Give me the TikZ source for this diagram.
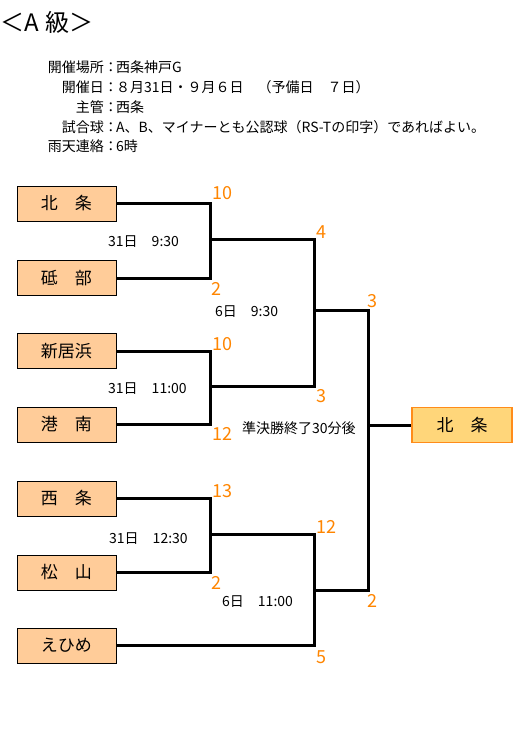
\documentclass[tikz,border=0pt]{standalone}
\usepackage{fontspec}
\setmainfont{Noto Sans CJK JP}
\definecolor{teamfill}{RGB}{255,204,153}
\definecolor{winfill}{RGB}{255,214,122}
\definecolor{winborder}{RGB}{255,140,26}
\definecolor{scorecol}{RGB}{255,133,0}
\tikzset{
  team/.style={draw=black, line width=1pt, fill=teamfill, minimum width=99pt, minimum height=35pt, inner sep=0pt, font=\fontsize{17}{17}\selectfont},
  winner/.style={draw=winborder, line width=1.2pt, fill=winfill, minimum width=100pt, minimum height=35pt, inner sep=0pt, font=\fontsize{17}{17}\selectfont},
  score/.style={anchor=base west, inner sep=0pt, text=scorecol, font=\fontsize{18}{18}\selectfont},
  timelbl/.style={anchor=base west, inner sep=0pt, font=\fontsize{14}{14}\selectfont},
  infolbl/.style={anchor=base east, inner sep=0pt, font=\fontsize{14}{14}\selectfont},
  infoval/.style={anchor=base west, inner sep=0pt, font=\fontsize{14}{14}\selectfont},
  bracket/.style={line width=3pt, black}
}
\begin{document}
\begin{tikzpicture}[x=1pt,y=-1pt]
\useasboundingbox (0,0) rectangle (525,737);
% header
\node[anchor=base west, inner sep=0pt, font=\fontsize{24}{24}\selectfont] (title) at (0,31) {＜A\hspace{0.3em}級＞};
\node[infolbl] (l1) at (118,72) {開催場所：};
\node[infoval] (v1) at (116,72) {西条神戸G};
\node[infolbl] (l2) at (118,92) {開催日：};
\node[infoval] (v2) at (116,92) {８月31日・９月６日　（予備日　７日）};
\node[infolbl] (l3) at (118,112) {主管：};
\node[infoval] (v3) at (116,112) {西条};
\node[infolbl] (l4) at (118,132) {試合球：};
\node[infoval] (v4) at (116,132) {A、B、マイナーとも公認球（RS-Tの印字）であればよい。};
\node[infolbl] (l5) at (118,151) {雨天連絡：};
\node[infoval] (v5) at (116,151) {6時};
% teams
\node[team] (b1) at (66.5,203.5) {北　条};
\node[team] (b2) at (66.5,278) {砥　部};
\node[team] (b3) at (66.5,351) {新居浜};
\node[team] (b4) at (66.5,424.5) {港　南};
\node[team] (b5) at (66.5,498.5) {西　条};
\node[team] (b6) at (66.5,572.5) {松　山};
\node[team] (b7) at (66.5,645.5) {えひめ};
\node[winner] (fin) at (462,425) {北　条};
% junctions
\coordinate (m1) at (210,239);
\coordinate (m2) at (210,386);
\coordinate (m3) at (210,534);
\coordinate (s1) at (314,310);
\coordinate (s2) at (314,590);
\coordinate (f) at (368,425);
% brackets
\draw[bracket] (b1.east) -| (m1) |- (b2.east);
\draw[bracket] (b3.east) -| (m2) |- (b4.east);
\draw[bracket] (b5.east) -| (m3) |- (b6.east);
\draw[bracket] (m1) -| (s1) |- (m2);
\draw[bracket] (m3) -| (s2) |- (b7.east);
\draw[bracket] (s1) -| (f) |- (s2);
\draw[bracket] (f) -- (fin.west);
% scores
\node[score] (sc1) at (212,199) {10};
\node[score] (sc2) at (211,295) {2};
\node[score] (sc3) at (316,238) {4};
\node[score] (sc4) at (367,307) {3};
\node[score] (sc5) at (212,350) {10};
\node[score] (sc6) at (316,402) {3};
\node[score] (sc7) at (212,440) {12};
\node[score] (sc8) at (212,497) {13};
\node[score] (sc9) at (316,533) {12};
\node[score] (sc10) at (211,589) {2};
\node[score] (sc11) at (367,607) {2};
\node[score] (sc12) at (316,663) {5};
% times
\node[timelbl] (t1) at (108,246) {31日　9:30};
\node[timelbl] (t2) at (215,316) {6日　9:30};
\node[timelbl] (t3) at (108,393) {31日　11:00};
\node[timelbl] (t4) at (242,433) {準決勝終了30分後};
\node[timelbl] (t5) at (109,543) {31日　12:30};
\node[timelbl] (t6) at (222,606) {6日　11:00};
\end{tikzpicture}
\end{document}
